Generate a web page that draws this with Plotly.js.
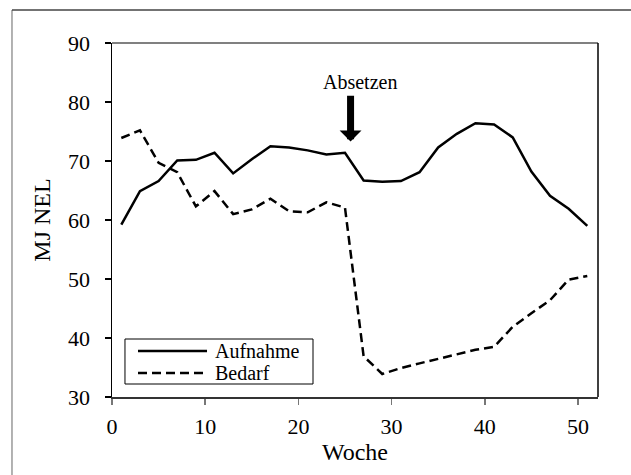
<!DOCTYPE html>
<html>
<head>
<meta charset="utf-8">
<script src="https://cdn.plot.ly/plotly-3.0.1.min.js"></script>
<style>
html,body{margin:0;padding:0;background:#fff;}
#chart{width:631px;height:475px;}
</style>
</head>
<body>
<div id="chart"></div>
<script>
const weeks = [1,3,5,7,9,11,13,15,17,19,21,23,25,27,29,31,33,35,37,39,41,43,45,47,49,51];
const aufnahme = [59.2,64.9,66.6,70.1,70.2,71.4,67.9,70.3,72.5,72.3,71.8,71.1,71.4,66.7,66.5,66.6,68.1,72.3,74.6,76.4,76.2,74.0,68.2,64.1,61.9,59.0];
const bedarf = [73.9,75.2,69.7,68.1,62.3,64.9,61.0,61.8,63.6,61.5,61.3,63.0,62.1,36.9,33.9,34.9,35.7,36.5,37.3,38.0,38.5,41.9,44.2,46.4,49.9,50.5];
const seriesNames = ["Aufnahme","Bedarf"];
const xTitle = "Woche";
const yTitle = "MJ NEL";
const noteText = "Absetzen";
const noteWeek = 25.6;

const FONT = 'Liberation Serif, Times New Roman, serif';
const dashes = ['solid', '9px,5px'];

const traces = [
  {x: weeks, y: aufnahme, name: seriesNames[0], type: 'scatter', mode: 'lines',
   line: {color: '#000', width: 2.5, dash: dashes[0]}},
  {x: weeks, y: bedarf, name: seriesNames[1], type: 'scatter', mode: 'lines',
   line: {color: '#000', width: 2.5, dash: dashes[1]}}
];

// manual legend (paper coordinates of the plot area)
const legBox = {x0: 0.0267, x1: 0.4136, y0: 0.0367, y1: 0.1638};
const legRowsY = [0.130, 0.0678];
const legLineX = [0.0535, 0.1955];
const legTextX = 0.2070;

const shapes = [
  {type: 'line', xref: 'paper', yref: 'paper', x0: 0, x1: 1, y0: 1, y1: 1,
   line: {color: '#808080', width: 2}},
  {type: 'line', xref: 'paper', yref: 'paper', x0: 1, x1: 1, y0: 0, y1: 1,
   line: {color: '#000', width: 1.5}},
  {type: 'line', xref: 'paper', yref: 'paper', x0: -0.2058, x1: -0.2058, y0: -0.4, y1: 1.093,
   line: {color: '#999', width: 1.5}},
  {type: 'line', xref: 'paper', yref: 'paper', x0: -0.2058, x1: 1.2, y0: 1.093, y1: 1.093,
   line: {color: '#444', width: 1.5}},
  {type: 'rect', xref: 'paper', yref: 'paper', x0: legBox.x0, x1: legBox.x1, y0: legBox.y0, y1: legBox.y1,
   line: {color: '#000', width: 1}, fillcolor: '#fff', layer: 'above'}
];
const annotations = [
  {x: noteWeek, y: 73.3, xref: 'x', yref: 'y', ax: noteWeek, ay: 81.3, axref: 'x', ayref: 'y',
   showarrow: true, arrowhead: 1, arrowwidth: 7, arrowsize: 0.52, arrowcolor: '#000', text: ''},
  {x: 26.6, y: 83.4, xref: 'x', yref: 'y', showarrow: false, text: noteText,
   font: {family: FONT, size: 20, color: '#000'}}
];
seriesNames.forEach((nm, i) => {
  shapes.push({type: 'line', xref: 'paper', yref: 'paper', x0: legLineX[0], x1: legLineX[1],
    y0: legRowsY[i], y1: legRowsY[i], line: {color: '#000', width: 2.5, dash: dashes[i]}, layer: 'above'});
  annotations.push({x: legTextX, y: legRowsY[i], xref: 'paper', yref: 'paper', xanchor: 'left',
    yanchor: 'middle', showarrow: false, text: nm, font: {family: FONT, size: 20, color: '#000'}});
});

const layout = {
  width: 631, height: 475,
  margin: {l: 112, r: 33, t: 43, b: 78, pad: 0},
  paper_bgcolor: '#fff', plot_bgcolor: '#fff',
  font: {family: FONT, size: 21, color: '#000'},
  showlegend: false,
  xaxis: {
    range: [0, 52.15], tickvals: [0,10,20,30,40,50],
    showgrid: false, zeroline: false,
    showline: true, linecolor: '#333', linewidth: 1.5,
    ticks: 'outside', ticklen: 6, tickcolor: '#777', tickwidth: 1.5,
    ticklabelstandoff: 3,
    tickfont: {family: FONT, size: 22, color: '#000'},
    title: {text: xTitle, font: {family: FONT, size: 24}, standoff: 0},
    fixedrange: true
  },
  yaxis: {
    range: [30, 90], tickvals: [30,40,50,60,70,80,90],
    showgrid: false, zeroline: false,
    showline: true, linecolor: '#000', linewidth: 1.5,
    ticks: 'outside', ticklen: 6, tickcolor: '#000', tickwidth: 1.5,
    ticklabelstandoff: 10,
    tickfont: {family: FONT, size: 22, color: '#000'},
    title: {text: yTitle, font: {family: FONT, size: 24}, standoff: 10},
    fixedrange: true
  },
  shapes: shapes,
  annotations: annotations
};

Plotly.newPlot('chart', traces, layout, {displayModeBar: false, staticPlot: true});
</script>
</body>
</html>
